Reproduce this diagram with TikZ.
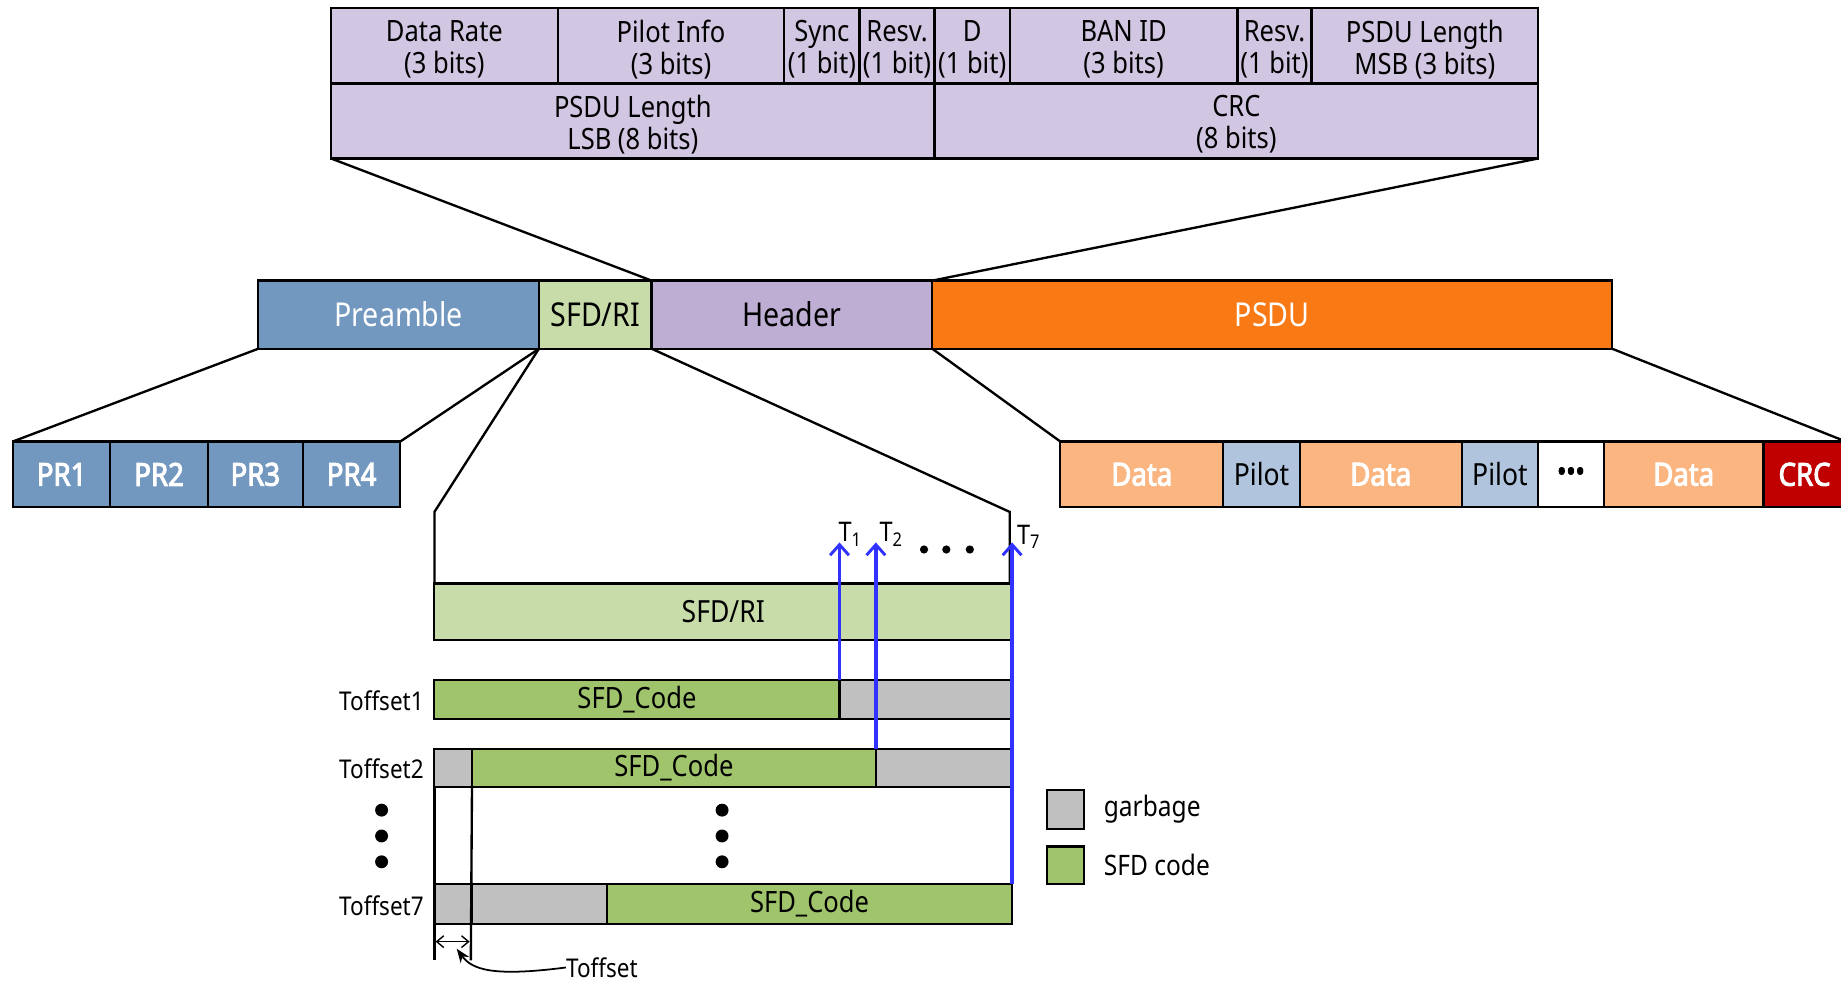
\documentclass[tikz,border=0pt]{standalone}
\usepackage{fontspec}
\setmainfont{Noto Sans}[FakeStretch=0.87,BoldFont={Noto Sans},BoldFeatures={FakeBold=3}]
\usetikzlibrary{arrows.meta}

\definecolor{hdrlight}{RGB}{209,199,226}
\definecolor{hdrmain}{RGB}{190,174,212}
\definecolor{preblue}{RGB}{115,152,192}
\definecolor{sfdlight}{RGB}{200,220,170}
\definecolor{psduorange}{RGB}{249,121,21}
\definecolor{dataorange}{RGB}{250,181,128}
\definecolor{pilotblue}{RGB}{176,196,222}
\definecolor{crcred}{RGB}{192,0,0}
\definecolor{codegreen}{RGB}{160,196,108}
\definecolor{garbagegray}{RGB}{192,192,192}
\definecolor{probeblue}{RGB}{50,50,255}

% box from (x1,y1) to (x2,y2): name, x1, y1, x2, y2, style, text
\newcommand\fcell[7]{%
  \pgfmathsetmacro\fcw{#4-#2}\pgfmathsetmacro\fch{#5-#3}%
  \node[#6,minimum width=\fcw pt,minimum height=\fch pt] (#1) at ({(#2+#4)/2},{(#3+#5)/2}) {#7};}
% header field: empty box plus its two-line text set slightly low
\newcommand\hfield[6]{%
  \fcell{#1}{#2}{#3}{#4}{#5}{detail}{}%
  \node[dtext] (#1t) at ([yshift=-3pt]#1.center) {#6};}

\begin{document}
\begin{tikzpicture}[x=1pt,y=-1pt,
  cell/.style={draw=black,line width=2pt,inner sep=0pt,outer sep=0pt,align=center},
  detail/.style={cell,fill=hdrlight},
  dtext/.style={inner sep=0pt,align=center,font=\fontsize{25}{27}\selectfont},
  frame/.style={cell,font=\fontsize{28}{30}\selectfont},
  sub/.style={cell,line width=1.8pt,font=\fontsize{27}{28}\selectfont\bfseries,text=white},
  subplain/.style={cell,line width=1.8pt,font=\fontsize{26}{28}\selectfont},
  row/.style={cell,line width=1.8pt,font=\fontsize{25}{28}\selectfont},
  lbl/.style={inner sep=0pt,font=\fontsize{22}{24}\selectfont},
  link/.style={line width=2pt},
  probe/.style={draw=probeblue,line width=3pt,-{Straight Barb[length=9pt,width=16pt,line width=2.5pt]}},
  dot/.style={fill=black}]
\useasboundingbox (0,0) rectangle (1568,836);

% header field layout
\hfield{dr}{282}{7}{475}{71}{Data Rate\\(3 bits)}
\hfield{pi}{475}{7}{668}{71}{Pilot Info\\(3 bits)}
\hfield{sy}{668}{7}{732}{71}{Sync\\(1 bit)}
\hfield{rsa}{732}{7}{796}{71}{Resv.\\(1 bit)}
\hfield{dd}{796}{7}{860}{71}{D\\(1 bit)}
\hfield{ban}{860}{7}{1054}{71}{BAN ID\\(3 bits)}
\hfield{rsb}{1054}{7}{1117}{71}{Resv.\\(1 bit)}
\hfield{msb}{1117}{7}{1310}{71}{PSDU Length\\MSB (3 bits)}
\hfield{lsb}{282}{71}{796}{135}{PSDU Length\\LSB (8 bits)}
\hfield{hcrc}{796}{71}{1310}{135}{CRC\\(8 bits)}

% PHY frame
\fcell{pre}{220}{239}{459}{297}{frame,fill=preblue,text=white}{Preamble}
\fcell{sfd}{459}{239}{555}{297}{frame,fill=sfdlight}{SFD/RI}
\fcell{hdr}{555}{239}{794}{297}{frame,fill=hdrmain}{Header}
\fcell{psdu}{794}{239}{1373}{297}{frame,fill=psduorange,text=white}{PSDU}

% preamble parts
\fcell{pra}{11}{376}{94}{432}{sub,fill=preblue}{PR1}
\fcell{prb}{94}{376}{177}{432}{sub,fill=preblue}{PR2}
\fcell{prc}{177}{376}{258}{432}{sub,fill=preblue}{PR3}
\fcell{prd}{258}{376}{341}{432}{sub,fill=preblue}{PR4}

% PSDU parts
\fcell{da}{903}{376}{1042}{432}{sub,fill=dataorange}{Data}
\fcell{pa}{1042}{376}{1107}{432}{subplain,fill=pilotblue}{Pilot}
\fcell{db}{1107}{376}{1245}{432}{sub,fill=dataorange}{Data}
\fcell{pb}{1245}{376}{1310}{432}{subplain,fill=pilotblue}{Pilot}
\fcell{el}{1310}{376}{1366}{432}{sub,fill=white,text=black,font=\fontsize{24}{28}\selectfont\bfseries}{•••}
\fcell{dc}{1366}{376}{1502}{432}{sub,fill=dataorange}{Data}
\fcell{pcrc}{1502}{376}{1572}{432}{sub,fill=crcred}{CRC}

% expansion lines
\draw[link] (lsb.south west) -- (hdr.north west);
\draw[link] (hcrc.south east) -- (hdr.north east);
\draw[link] (pre.south west) -- (pra.north west);
\draw[link] (pre.south east) -- (prd.north east);
\draw[link] (psdu.south west) -- (da.north west);
\draw[link] (psdu.south east) -- (pcrc.north east);

% SFD/RI detail
\fcell{sfdbig}{370}{497}{862}{545}{row,fill=sfdlight,font=\fontsize{26}{28}\selectfont}{SFD/RI}
\coordinate (cl) at (370,436);
\coordinate (cr) at (860,436);
\draw[link] (sfd.south west) -- (cl) -- (sfdbig.north west);
\draw[link] (sfd.south east) -- (cr) -- (860,497);

% offset rows
\fcell{ra}{370}{579}{715}{612}{row,fill=codegreen}{SFD\_Code}
\fcell{rb}{715}{579}{862}{612}{row,fill=garbagegray}{}
\fcell{sa}{370}{638}{402}{670}{row,fill=garbagegray}{}
\fcell{sb}{402}{638}{746}{670}{row,fill=codegreen}{SFD\_Code}
\fcell{sc}{746}{638}{861}{670}{row,fill=garbagegray}{}
\fcell{ua}{370}{753}{402}{787}{row,fill=garbagegray}{}
\fcell{ub}{402}{753}{517}{787}{row,fill=garbagegray}{}
\fcell{uc}{517}{753}{862}{787}{row,fill=codegreen}{SFD\_Code}

\node[lbl,anchor=east] (la) at (361,597) {Toffset1};
\node[lbl,anchor=east] (lb) at (361,655) {Toffset2};
\node[lbl,anchor=east] (lc) at (361,771) {Toffset7};

\foreach \yy in {690,712,734}{
  \fill[dot] (325,\yy) circle (5.5);
  \fill[dot] (615,\yy) circle (5.5);
}

% detection instants
\coordinate (ta) at (715,462);
\coordinate (tb) at (746,462);
\coordinate (tg) at (862,462);
\draw[probe] (ra.north east) -- (ta);
\draw[probe] (sb.north east) -- (tb);
\draw[probe] (uc.north east) -- (tg);
\node[lbl,font=\fontsize{23}{25}\selectfont] (tla) at (724,455) {T\textsubscript{1}};
\node[lbl,font=\fontsize{23}{25}\selectfont] (tlb) at (759,455) {T\textsubscript{2}};
\node[lbl,font=\fontsize{23}{25}\selectfont] (tlg) at (876,457) {T\textsubscript{7}};
\foreach \xx in {787,806,826}{\fill[dot] (\xx,468) circle (3.5);}

% offset marker
\coordinate (ba) at (370,818);
\coordinate (bb) at (401,818);
\coordinate (ma) at (371,802);
\coordinate (mb) at (400,802);
\draw[link] (sa.south west) -- (ba);
\draw[link] (sa.south east) -- (bb);
\draw[line width=1.2pt,{Straight Barb[length=6pt,width=10pt]}-{Straight Barb[length=6pt,width=10pt]}] (ma) -- (mb);
\node[lbl,anchor=west] (toff) at (482,824) {Toffset};
\coordinate (mt) at (389,808);
\draw[line width=1.5pt,-{Stealth[length=12pt,width=9pt]}] (toff.west) .. controls (420,832) and (402,826) .. (mt);

% legend
\fcell{lga}{892}{673}{923}{706}{row,fill=garbagegray}{}
\fcell{lgb}{892}{721}{923}{753}{row,fill=codegreen}{}
\node[lbl,anchor=west,font=\fontsize{24}{26}\selectfont] (lta) at (940,689) {garbage};
\node[lbl,anchor=west,font=\fontsize{24}{26}\selectfont] (ltb) at (940,737) {SFD code};
\end{tikzpicture}
\end{document}
